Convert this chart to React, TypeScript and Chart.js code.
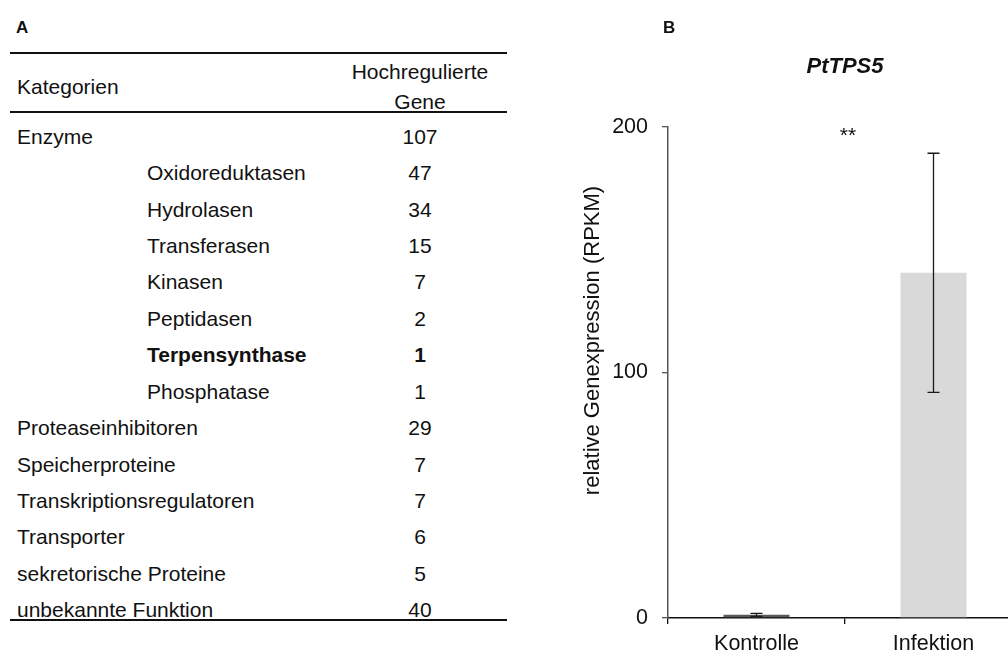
import React, { useEffect, useRef } from "react";
import { Chart, registerables } from "chart.js";

Chart.register(...registerables);

// Panel A: up-regulated genes per functional category
const tableHeaderCategory = "Kategorien";
const tableHeaderCount = ["Hochregulierte", "Gene"];
const categoryNames = [
  "Enzyme",
  "Oxidoreduktasen",
  "Hydrolasen",
  "Transferasen",
  "Kinasen",
  "Peptidasen",
  "Terpensynthase",
  "Phosphatase",
  "Proteaseinhibitoren",
  "Speicherproteine",
  "Transkriptionsregulatoren",
  "Transporter",
  "sekretorische Proteine",
  "unbekannte Funktion",
];
const categoryCounts = [107, 47, 34, 15, 7, 2, 1, 1, 29, 7, 7, 6, 5, 40];
// 0 = main category, 1 = enzyme subclass
const categoryLevels = [0, 1, 1, 1, 1, 1, 1, 1, 0, 0, 0, 0, 0, 0];
const highlightedCategory = "Terpensynthase";

// Panel B: PtTPS5 expression
const geneName = "PtTPS5";
const groups = ["Kontrolle", "Infektion"];
const meanRpkm = [1.3, 140.6];
const sdRpkm = [0.6, 48.7];
const yTickValues = [0, 100, 200];
const yAxisTitle = "relative Genexpression (RPKM)";
const significanceMark = "**";

const FONT = "'Liberation Sans', Arial, Helvetica, sans-serif";
const TEXT = "#111";

const ROW_BASELINE0 = 143.4;
const ROW_PITCH = 36.44;
const TABLE_FONT = 21;

function textTop(baseline: number, size: number) {
  // line-height equal to the font size puts the baseline ~0.8465em below the box top
  return baseline - 0.8465 * size;
}

function Cell(props: {
  text: string | number;
  baseline: number;
  left?: number;
  center?: number;
  bold?: boolean;
  size?: number;
}) {
  const size = props.size ?? TABLE_FONT;
  const style: React.CSSProperties = {
    position: "absolute",
    top: textTop(props.baseline, size),
    fontFamily: FONT,
    fontSize: size,
    lineHeight: `${size}px`,
    fontWeight: props.bold ? "bold" : "normal",
    color: TEXT,
    whiteSpace: "nowrap",
  };
  if (props.center !== undefined) {
    style.left = props.center - 100;
    style.width = 200;
    style.textAlign = "center";
  } else {
    style.left = props.left;
  }
  return <div style={style}>{props.text}</div>;
}

function Rule(props: { y: number }) {
  return (
    <div
      style={{
        position: "absolute",
        left: 10,
        width: 497,
        top: props.y - 1,
        height: 2,
        background: "#111",
      }}
    />
  );
}

function GeneTable() {
  const countCenter = 420;
  return (
    <>
      <Cell text="A" baseline={33.3} left={16} bold size={17} />
      <Rule y={53} />
      <Cell text={tableHeaderCategory} baseline={93.3} left={17} />
      <Cell text={tableHeaderCount[0]} baseline={78.3} center={countCenter} />
      <Cell text={tableHeaderCount[1]} baseline={108.3} center={countCenter} />
      <Rule y={112} />
      {categoryNames.map((name, i) => {
        const baseline = ROW_BASELINE0 + i * ROW_PITCH;
        const bold = name === highlightedCategory;
        return (
          <React.Fragment key={name}>
            <Cell
              text={name}
              baseline={baseline}
              left={categoryLevels[i] === 0 ? 17 : 147}
              bold={bold}
            />
            <Cell text={categoryCounts[i]} baseline={baseline} center={countCenter} bold={bold} />
          </React.Fragment>
        );
      })}
      <Rule y={620} />
    </>
  );
}

const decorations = {
  id: "decorations",
  afterDatasetsDraw(chart: any) {
    const { ctx, chartArea, scales } = chart;
    const y = scales.y;
    const meta = chart.getDatasetMeta(0);
    ctx.save();
    // error bars (± SD)
    ctx.strokeStyle = "#1a1a1a";
    ctx.lineWidth = 1.3;
    meta.data.forEach((bar: any, i: number) => {
      const x = bar.x;
      const yTop = y.getPixelForValue(meanRpkm[i] + sdRpkm[i]);
      const yBot = y.getPixelForValue(meanRpkm[i] - sdRpkm[i]);
      const cap = 6;
      ctx.beginPath();
      ctx.moveTo(x, yTop);
      ctx.lineTo(x, yBot);
      ctx.moveTo(x - cap, yTop);
      ctx.lineTo(x + cap, yTop);
      ctx.moveTo(x - cap, yBot);
      ctx.lineTo(x + cap, yBot);
      ctx.stroke();
    });
    const midX = (chartArea.left + chartArea.right) / 2;
    // title
    ctx.fillStyle = TEXT;
    ctx.font = `italic bold 22px ${FONT}`;
    ctx.textAlign = "center";
    ctx.textBaseline = "middle";
    ctx.fillText(geneName, midX, 67);
    // significance
    ctx.font = `21px ${FONT}`;
    ctx.textBaseline = "alphabetic";
    ctx.fillText(significanceMark, midX + 3, chartArea.top + 15);
    // y-axis title
    ctx.font = `22px ${FONT}`;
    ctx.textBaseline = "middle";
    ctx.translate(chartArea.left - 75, (chartArea.top + chartArea.bottom) / 2 - 32);
    ctx.rotate(-Math.PI / 2);
    ctx.fillText(yAxisTitle, 0, 0);
    ctx.restore();
  },
};

function ExpressionChart() {
  const ref = useRef<HTMLCanvasElement>(null);
  useEffect(() => {
    if (!ref.current) return;
    const chart = new Chart(ref.current, {
      type: "bar",
      data: {
        labels: groups,
        datasets: [
          {
            data: meanRpkm,
            backgroundColor: ["#5a5a5a", "#d9d9d9"],
            borderWidth: 0,
            barPercentage: 0.373,
            categoryPercentage: 1,
          },
        ],
      },
      options: {
        responsive: false,
        animation: false,
        layout: { padding: { top: 127, right: 8, left: 0, bottom: 0 } },
        plugins: {
          legend: { display: false },
          tooltip: { enabled: false },
          title: { display: false },
        },
        scales: {
          x: {
            type: "category",
            grid: {
              offset: true,
              drawOnChartArea: false,
              tickLength: 6,
              color: "#111",
              lineWidth: 1.3,
            },
            border: { color: "#111", width: 1.6 },
            ticks: {
              color: TEXT,
              font: { family: FONT, size: 21.5 },
              padding: 7,
            },
            afterFit(scale: any) {
              scale.height = 34;
            },
          },
          y: {
            min: 0,
            max: 200,
            afterBuildTicks(scale: any) {
              scale.ticks = yTickValues.map((v) => ({ value: v }));
            },
            grid: {
              drawOnChartArea: false,
              tickLength: 6,
              color: "#555",
              lineWidth: 1.3,
            },
            border: { color: "#555", width: 1.5 },
            ticks: {
              color: TEXT,
              font: { family: FONT, size: 21.5 },
              padding: 14,
            },
            afterFit(scale: any) {
              scale.width = 108;
            },
          },
        },
      },
      plugins: [decorations],
    });
    return () => chart.destroy();
  }, []);
  return (
    <canvas
      ref={ref}
      width={470}
      height={652}
      style={{ position: "absolute", left: 560, top: 0, width: 470, height: 652 }}
    />
  );
}

export default function App() {
  return (
    <div
      style={{
        position: "fixed",
        left: 0,
        top: 0,
        width: 1008,
        height: 652,
        overflow: "hidden",
        background: "#fff",
      }}
    >
      <GeneTable />
      <ExpressionChart />
      <Cell text="B" baseline={33.3} left={663} bold size={17} />
    </div>
  );
}
